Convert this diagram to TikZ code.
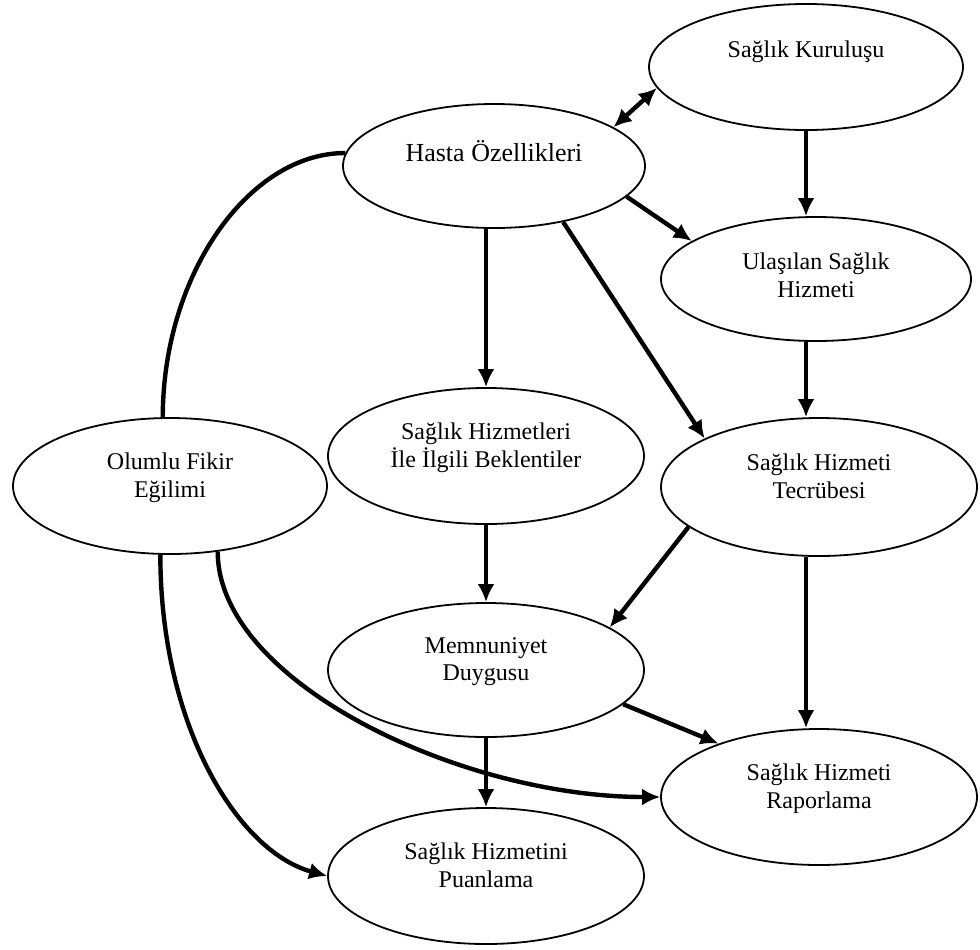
\documentclass[tikz,border=0pt]{standalone}
\usepackage{fontspec}
\setmainfont{Liberation Serif}
\usetikzlibrary{shapes.geometric,arrows.meta}
\tikzstyle{factor} = [ellipse, minimum width=158pt, minimum height=68pt, inner sep=0pt, text centered, align=center, draw=black, line width=0.9pt, fill=white, font=\fontsize{12}{13.8}\selectfont]
\tikzstyle{arrow} = [line width=2.2pt,->,>={Latex[length=9pt,width=8.5pt]}]
\tikzstyle{link} = [line width=2.2pt]

\begin{document}
\begin{tikzpicture}[x=0.5pt,y=0.5pt]
\useasboundingbox (0,0) rectangle (980,-949);
\node (Kurulus)[factor, minimum width=157pt, minimum height=63pt] at (806,-67) {Sağlık Kuruluşu\\[4pt]\mbox{}};
\node (Hasta)[factor, minimum width=151pt, minimum height=62pt, font=\fontsize{13}{15}\selectfont] at (494,-166) {Hasta Özellikleri\\ \mbox{}};
\node (Ulasilan)[factor, minimum width=155pt, minimum height=62pt] at (816,-279) {Ulaşılan Sağlık\\Hizmeti\\[-10pt]\mbox{}};
\node (Beklenti)[factor] at (486,-456) {Sağlık Hizmetleri\\İle İlgili Beklentiler\\[-3pt]\mbox{}};
\node (Olumlu)[factor, minimum width=157pt] at (170,-486) {Olumlu Fikir\\Eğilimi\\[-3pt]\mbox{}};
\node (Tecrube)[factor, minimum height=69pt] at (819,-487) {Sağlık Hizmeti\\Tecrübesi\\[-3pt]\mbox{}};
\node (Memnun)[factor, minimum height=67pt] at (486,-670) {Memnuniyet\\Duygusu\\[-3pt]\mbox{}};
\node (Rapor)[factor] at (819,-797) {Sağlık Hizmeti\\Raporlama\\[-3pt]\mbox{}};
\node (Puan)[factor] at (486,-876) {Sağlık Hizmetini\\Puanlama\\[-3pt]\mbox{}};

% hasta ozellikleri
\draw [arrow,<->](Hasta.18) -- (Kurulus.188);
\draw [arrow](Hasta.-13) -- (Ulasilan.163);
\draw [arrow](Hasta.south -| Beklenti.north) -- (Beklenti.north);
\draw [arrow](Hasta.-39) -- (Tecrube.157);
% right column
\draw [arrow](Kurulus.south) -- (Kurulus.south |- Ulasilan.north);
\draw [arrow](Kurulus.south |- Ulasilan.south) -- (Kurulus.south |- Tecrube.north);
\draw [arrow](Kurulus.south |- Tecrube.south) -- (Kurulus.south |- Rapor.north);
% middle column
\draw [arrow](Beklenti) -- (Memnun);
\draw [arrow](Tecrube.197) -- (Memnun.19);
\draw [arrow](Memnun.-14) -- (Rapor.152);
\draw [arrow](Memnun) -- (Puan);
% olumlu fikir egilimi
\draw [link](Olumlu.96) .. controls +(0,142) and +(-97,0) .. (Hasta.175);
\draw [arrow](Olumlu.-54) .. controls +(0,-130) and +(-200,0) .. (Rapor.west);
\draw [arrow](Olumlu.-98) .. controls +(0,-170) and +(-90,25) .. (Puan.west);
\end{tikzpicture}
\end{document}
